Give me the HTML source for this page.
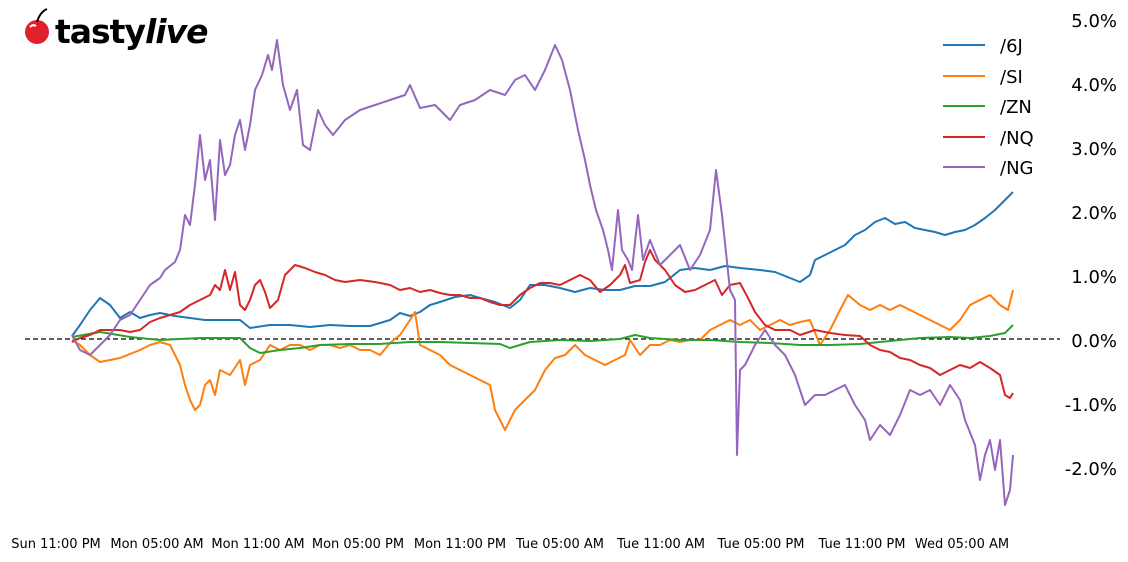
<!DOCTYPE html>
<html><head><meta charset="utf-8"><style>
body{margin:0;background:#fff;width:1128px;height:557px;overflow:hidden}
svg text{font-family:"DejaVu Sans","Liberation Sans",sans-serif}
</style></head><body>
<svg width="1128" height="557" viewBox="0 0 1128 557">
<g fill="none" stroke-width="2" stroke-linejoin="round">
<line x1="25" y1="339" x2="1060" y2="339" stroke="#000" stroke-width="1.3" stroke-dasharray="5,3"/>
<polyline stroke="#1f77b4" points="72,336 80,325 90,310 100,298 110,305 120,318 130,312 140,318 150,315 160,313 175,316 190,318 205,320 220,320 240,320 250,328 270,325 290,325 310,327 330,325 350,326 370,326 390,320 400,313 410,316 420,312 430,305 440,302 455,297 470,295 480,298 495,302 510,308 520,300 530,285 545,285 560,288 575,292 590,288 605,290 620,290 635,286 650,286 665,282 680,270 695,268 710,270 725,266 740,268 760,270 775,272 790,278 800,282 810,275 815,260 825,255 835,250 845,245 855,235 865,230 875,222 885,218 895,224 905,222 915,228 925,230 935,232 945,235 955,232 965,230 975,225 985,218 995,210 1005,200 1013,192"/>
<polyline stroke="#ff7f0e" points="72,340 80,345 90,355 100,362 110,360 120,358 130,354 140,350 150,345 160,342 170,345 180,365 185,385 190,400 195,410 200,405 205,385 210,380 215,395 220,370 230,375 240,360 245,385 250,365 260,360 270,345 280,350 290,345 300,345 310,350 320,345 330,345 340,348 350,345 360,350 370,350 380,355 390,343 400,335 410,320 415,312 420,345 430,350 440,355 450,365 460,370 470,375 480,380 490,385 495,410 500,420 505,430 510,420 515,410 525,400 535,390 545,370 555,358 565,355 575,345 585,355 595,360 605,365 615,360 625,355 630,340 640,355 650,345 660,345 670,340 680,342 690,340 700,340 710,330 720,325 730,320 740,325 750,320 760,330 770,325 780,320 790,325 800,322 810,320 820,345 830,330 840,310 848,295 860,305 870,310 880,305 890,310 900,305 910,310 920,315 930,320 940,325 950,330 960,320 970,305 980,300 990,295 1000,305 1008,310 1013,290"/>
<polyline stroke="#2ca02c" points="72,337 100,332 130,337 160,340 200,338 240,338 250,348 260,353 280,350 300,348 320,345 350,344 380,344 410,342 440,342 470,343 500,344 510,348 530,342 560,340 590,341 620,339 635,335 650,338 680,340 710,340 740,342 770,343 800,345 830,345 860,344 890,341 920,338 950,337 970,338 990,336 1005,333 1013,325"/>
<polyline stroke="#d62728" points="72,342 80,338 90,335 100,330 110,330 120,330 130,332 140,330 150,322 160,318 170,315 180,312 190,305 200,300 210,295 215,285 220,290 225,270 230,290 235,272 240,305 245,310 250,300 255,285 260,280 265,292 270,308 278,300 285,275 295,265 305,268 315,272 325,275 335,280 345,282 360,280 375,282 390,285 400,290 410,288 420,292 430,290 440,293 450,295 460,295 470,298 480,298 490,302 500,305 510,305 520,295 530,288 540,283 550,283 560,285 570,280 580,275 590,280 600,292 610,285 620,275 625,265 630,283 640,280 645,262 650,250 655,260 665,270 675,285 685,292 695,290 705,285 715,280 722,295 730,285 740,283 748,298 755,312 765,325 775,330 790,330 800,335 815,330 830,333 845,335 860,336 870,345 880,350 890,352 900,358 910,360 920,365 930,368 940,375 950,370 960,365 970,368 980,362 990,368 1000,375 1005,395 1010,398 1013,393"/>
<polyline stroke="#9467bd" points="72,335 80,350 90,355 100,345 110,335 120,320 130,315 140,300 150,285 160,278 165,270 175,262 180,250 185,215 190,225 195,185 200,135 205,180 210,160 215,220 220,140 225,175 230,165 235,135 240,120 245,150 250,125 255,90 262,75 268,55 272,70 277,40 283,85 290,110 297,90 303,145 310,150 318,110 325,125 333,135 345,120 360,110 375,105 390,100 405,95 410,85 420,108 435,105 450,120 460,105 475,100 490,90 505,95 515,80 525,75 535,90 545,70 555,45 562,60 570,90 578,130 585,160 590,185 596,210 603,230 608,250 612,270 618,210 622,250 628,260 632,270 638,215 643,260 650,240 660,265 670,255 680,245 690,270 700,255 710,230 716,170 722,215 730,290 735,300 737,455 740,370 745,365 755,345 765,330 775,345 785,355 795,375 805,405 815,395 825,395 835,390 845,385 855,405 865,420 870,440 880,425 890,435 900,415 910,390 920,395 930,390 940,405 950,385 960,400 965,420 975,445 980,480 985,455 990,440 995,470 1000,440 1005,505 1010,490 1013,455"/>
</g>
<g font-size="18" fill="#000" text-anchor="end">
<text x="1117" y="27">5.0%</text><text x="1117" y="91">4.0%</text><text x="1117" y="155">3.0%</text><text x="1117" y="219">2.0%</text><text x="1117" y="283">1.0%</text><text x="1117" y="347">0.0%</text><text x="1117" y="411">-1.0%</text><text x="1117" y="475">-2.0%</text>
</g>
<g stroke-width="2">
<line x1="943" y1="45" x2="985" y2="45" stroke="#1f77b4"/>
<line x1="943" y1="76" x2="985" y2="76" stroke="#ff7f0e"/>
<line x1="943" y1="106" x2="985" y2="106" stroke="#2ca02c"/>
<line x1="943" y1="137" x2="985" y2="137" stroke="#d62728"/>
<line x1="943" y1="167" x2="985" y2="167" stroke="#9467bd"/>
</g>
<g font-size="18" fill="#000">
<text x="1000" y="52">/6J</text><text x="1000" y="83">/SI</text><text x="1000" y="113">/ZN</text><text x="1000" y="144">/NQ</text><text x="1000" y="174">/NG</text>
</g>
<g font-size="13" fill="#000" text-anchor="middle">
<text x="56" y="548">Sun 11:00 PM</text><text x="157" y="548">Mon 05:00 AM</text><text x="258" y="548">Mon 11:00 AM</text><text x="358" y="548">Mon 05:00 PM</text><text x="460" y="548">Mon 11:00 PM</text><text x="560" y="548">Tue 05:00 AM</text><text x="661" y="548">Tue 11:00 AM</text><text x="761" y="548">Tue 05:00 PM</text><text x="862" y="548">Tue 11:00 PM</text><text x="962" y="548">Wed 05:00 AM</text>
</g>
<g>
<circle cx="37" cy="32" r="12" fill="#e0202a"/>
<path d="M37,22 Q40,12 47,9" stroke="#000" stroke-width="2" fill="none"/>
<path d="M30,27 Q33,24 36,26" stroke="#fff" stroke-width="2" fill="none"/>
<text x="55" y="43" font-family="'DejaVu Sans',sans-serif" font-weight="bold" font-size="33" fill="#000" letter-spacing="-1">tasty<tspan font-style="italic">live</tspan></text>
</g>
</svg>
</body></html>
